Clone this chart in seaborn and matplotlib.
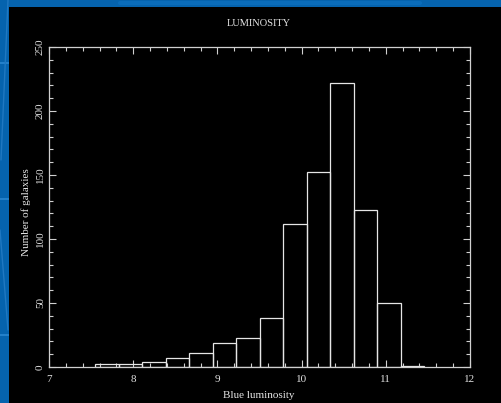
import matplotlib
matplotlib.use("Agg")
import matplotlib.pyplot as plt
from matplotlib.patches import Rectangle
from matplotlib.lines import Line2D
import seaborn as sns
import numpy as np

# Data
bin_edges = [7.55, 7.829, 8.108, 8.387, 8.666, 8.945, 9.224, 9.503, 9.782,
             10.061, 10.34, 10.619, 10.898, 11.177, 11.456]
counts = [2, 2, 4, 7, 11, 19, 23, 38, 112, 152, 222, 123, 50, 1]
title = "LUMINOSITY"
xlabel = "Blue luminosity"
ylabel = "Number of galaxies"
xticks = [7, 8, 9, 10, 11, 12]
yticks = [0, 50, 100, 150, 200, 250]

sns.set_theme(style="ticks")
plt.rcParams['font.family'] = ['Liberation Serif', 'DejaVu Serif']

W, H = 501, 403
fig = plt.figure(figsize=(W / 100, H / 100), dpi=100)
fig.patch.set_facecolor("#0563ae")


def fl(x0, y0, x1, y1, c="#2a86d0", lw=1.2):
    fig.add_artist(Line2D([x0 / W, x1 / W], [1 - y0 / H, 1 - y1 / H], color=c,
                          lw=lw, transform=fig.transFigure, zorder=-1))


# decorative lighter stripes of the slide background
for yy in (63, 199, 335):
    fl(0, yy, 9, yy)
fl(8, 0, 1, 160, c="#1f78c2", lw=1.0)
fl(0, 230, 8, 330, c="#1f78c2", lw=1.0)
fl(120, 3, 420, 3, c="#0a6cba", lw=3)

fig.add_artist(Rectangle((9 / W, 0), 1, 1 - 7 / H, transform=fig.transFigure,
                         facecolor="black", edgecolor="none", zorder=0))

ax = fig.add_axes([49 / W, 1 - 367 / H, (470 - 49) / W, (367 - 47) / H])
ax.set_facecolor("black")

centers = [(bin_edges[i] + bin_edges[i + 1]) / 2 for i in range(len(counts))]
sns.histplot(x=centers, weights=counts, bins=bin_edges, fill=False,
             element="bars", color="#e6e6e6", linewidth=0.9, ax=ax)

ax.set_xlim(7, 12)
ax.set_ylim(0, 250)
ax.set_xticks(xticks)
ax.set_xticklabels([str(t) for t in xticks])
ax.set_yticks(yticks)
ax.set_yticklabels([str(t) for t in yticks], rotation=90, va="center")
ax.set_xticks(np.arange(7, 12.01, 0.2), minor=True)
ax.set_yticks(np.arange(0, 250.1, 10), minor=True)

for s in ax.spines.values():
    s.set_color("#d0d0d0")
    s.set_linewidth(0.9)
    s.set_visible(True)

ax.tick_params(which="both", direction="in", top=True, right=True,
               colors="#d0d0d0", labelcolor="#e0e0e0", labelsize=8)
ax.tick_params(which="major", length=5, width=0.8)
ax.tick_params(axis="x", which="major", pad=6)
ax.tick_params(axis="y", which="major", pad=3)
ax.tick_params(which="minor", length=3, width=0.8)

ax.set_xlabel("")
ax.set_ylabel("")
fig.text(259 / W, 1 - 395 / H, xlabel, color="#e6e6e6", fontsize=8,
         ha="center", va="center")
fig.text(26 / W, 1 - 212 / H, ylabel, color="#e6e6e6", fontsize=8,
         ha="center", va="center", rotation=90)
fig.text(259 / W, 1 - 24 / H, title, color="#e6e6e6", fontsize=7.5,
         ha="center", va="center")

fig.savefig("out.png", dpi=100, facecolor=fig.get_facecolor())
